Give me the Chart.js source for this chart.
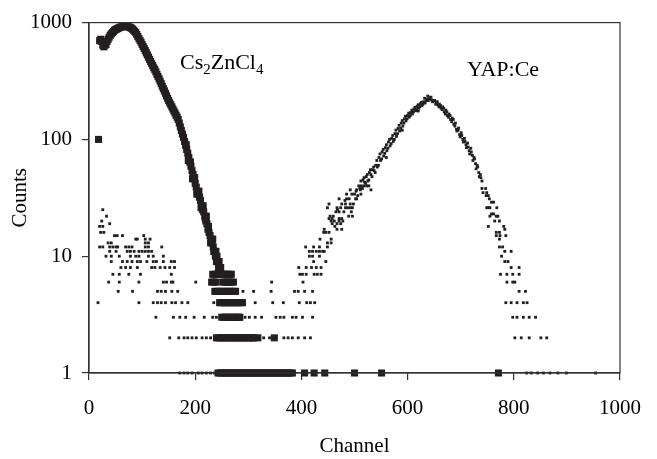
<!DOCTYPE html>
<html>
<head>
<meta charset="utf-8">
<script src="https://cdn.jsdelivr.net/npm/chart.js@4"></script>
<style>
    body { margin: 0; background: #fff; }
</style>
</head>
<body>
<canvas id="miGrafico" width="657" height="459"></canvas>
<script>
// ------------------------------------------------------------------------------
// ESPECTROS  Cs2ZnCl4 / YAP:Ce  (Counts vs Channel, escala log)
// ------------------------------------------------------------------------------
const xTicks = [0, 200, 400, 600, 800, 1000];
const yTicks = [1, 10, 100, 1000];

// Cs2ZnCl4 (cuadros grandes)
const csChannel = [
    18, 20, 22, 24, 26, 28, 30, 32, 34, 36, 38,
    40, 42, 44, 46, 48, 50, 52, 54, 56, 58,
    60, 62, 64, 66, 68, 70, 72, 74, 76, 78,
    80, 82, 84, 86, 88, 90, 92, 94, 96, 98,
    100, 102, 104, 106, 108, 110, 112, 114, 116, 118,
    120, 122, 124, 126, 128, 130, 132, 134, 136, 138,
    140, 142, 144, 146, 148, 150, 152, 154, 156, 158,
    160, 162, 164, 166, 168, 170, 172, 174, 176, 178,
    180, 182, 184, 186, 188, 190, 192, 194, 196, 198,
    200, 202, 204, 206, 208, 210, 212, 214, 216, 218,
    220, 222, 224, 226, 228, 230, 232, 234, 236, 238,
    240, 242, 244, 246, 248,
    183, 187, 191, 195, 199, 203, 207, 211, 215, 219,
    221, 225, 229, 233, 235, 239, 241, 243, 245, 247,
    233, 237, 241, 245, 249, 253, 257, 261, 265, 268,
    231, 235, 239, 252, 256, 260, 264, 268, 272,
    237, 241, 245, 249, 253, 257, 261, 265, 269, 273, 276,
    246, 250, 254, 258, 262, 266, 270, 274, 278, 282, 286, 289,
    250, 254, 258, 262, 266, 270, 274, 278, 282, 284,
    240, 244, 248, 252, 256, 260, 264, 268, 272, 276, 280,
    284, 288, 292, 296, 300, 304, 308, 310, 318, 349,
    243, 247, 251, 255, 259, 263, 267, 271, 275, 279, 283, 287,
    291, 295, 299, 303, 307, 311, 315, 319, 323, 327, 331, 335,
    339, 343, 347, 351, 355, 359, 363, 367, 371, 375, 379, 383,
    406, 424, 444, 500, 551, 771
];
const csCounts = [
    100, 700, 720, 690, 640, 620, 640, 650, 690, 720, 750,
    780, 800, 820, 840, 860, 870, 880, 890, 900, 910,
    915, 920, 925, 930, 930, 930, 925, 920, 915, 905,
    895, 880, 860, 840, 820, 790, 760, 730, 705, 680,
    650, 625, 600, 575, 550, 528, 505, 485, 465, 445,
    428, 410, 395, 378, 360, 345, 330, 315, 300, 285,
    272, 260, 248, 236, 225, 215, 206, 198, 190, 182,
    175, 168, 161, 155, 148, 138, 128, 119, 111, 104,
    96, 89, 82, 76, 70, 64, 59, 54, 50, 46,
    42, 39, 36, 34, 32, 30, 27, 25, 24, 22,
    20, 19, 17, 16, 15, 14, 13, 12, 11, 10,
    9, 9, 8, 8, 8,
    90, 66, 64, 46, 47, 34, 36, 26, 27, 21,
    22, 18, 13, 14, 11, 11, 10, 9, 9, 8,
    7, 7, 7, 7, 7, 7, 7, 7, 7, 7,
    6, 6, 6, 6, 6, 6, 6, 6, 6,
    5, 5, 5, 5, 5, 5, 5, 5, 5, 5, 5,
    4, 4, 4, 4, 4, 4, 4, 4, 4, 4, 4, 4,
    3, 3, 3, 3, 3, 3, 3, 3, 3, 3,
    2, 2, 2, 2, 2, 2, 2, 2, 2, 2, 2,
    2, 2, 2, 2, 2, 2, 2, 2, 2, 2,
    1, 1, 1, 1, 1, 1, 1, 1, 1, 1, 1, 1,
    1, 1, 1, 1, 1, 1, 1, 1, 1, 1, 1, 1,
    1, 1, 1, 1, 1, 1, 1, 1, 1, 1, 1, 1,
    1, 1, 1, 1, 1, 1
];

// YAP:Ce (puntos chicos)
const yapChannel = [
    26, 33, 24, 39, 20, 26, 22, 28,
    48, 53, 63, 103, 88, 91, 106, 115,
    36, 42, 106, 112,
    20, 26, 39, 45, 51, 54, 69, 75, 81, 106, 112, 137,
    39, 51, 72, 78, 85, 94, 100, 106, 112, 118,
    32, 42, 57, 78, 88, 94, 112, 121, 140,
    42, 63, 72, 81, 91, 97, 109, 121, 127, 140, 155, 161,
    60, 69, 78, 91, 118, 124, 134, 143, 152, 161,
    45, 57, 75, 97, 155,
    37, 57, 94, 140, 146, 155, 158, 201,
    55, 82, 129, 136, 144, 156, 167,
    17, 94, 121, 129, 136, 144, 156, 163, 175, 186, 235,
    126, 159, 171, 182, 198, 217, 233, 240, 256,
    152, 169, 179, 186, 194, 202, 213, 221, 229,
    171, 179, 186, 194, 206, 213, 221, 229, 236,
    344, 403, 290, 310, 343, 387, 394, 406, 421,
    313, 346, 366, 396, 410, 417, 425,
    286, 294, 302, 313, 325, 352, 360, 367, 383, 390, 402, 421,
    329, 340, 352, 367, 375, 383, 394, 406, 417,
    397, 402, 409, 424, 430, 437, 395, 409, 419, 428, 437,
    423, 446, 415, 421, 434, 415, 421, 428, 434, 440, 443,
    408, 423, 434, 449, 449, 456, 435, 456,
    442, 446, 452, 443, 467, 476, 458, 467, 474, 456, 462, 471,
    452, 458, 471, 476, 454, 489, 496, 465, 471, 480, 494,
    449, 467, 474, 483, 492, 496, 452, 476, 483, 492,
    471, 485, 502, 504, 485, 500, 512,
    492, 504, 511, 531, 508, 518, 523, 527,
    460, 463, 468, 478, 482, 487, 490, 495, 498, 503, 506, 510,
    512, 515, 518, 521, 524, 527, 530, 533, 536, 539,
    542, 545, 548, 551, 554, 557, 560, 563, 566, 569,
    572, 575, 578, 581, 584, 587, 590, 593, 596, 599,
    602, 605, 608, 611, 614, 617, 620, 623, 626, 629,
    632, 635, 638, 641, 644, 647, 650, 560, 590, 620,
    513, 516, 519, 522, 525, 528, 531, 534, 537, 540,
    543, 546, 549, 552, 555, 558, 561, 564, 567, 570,
    573, 576, 579, 582, 585, 588, 591, 594, 597, 600,
    603, 606, 609, 612, 615, 618, 621, 624, 627, 630,
    633, 636, 639, 642, 645, 648,
    651, 654, 657, 660, 663, 666, 669, 672, 675, 678,
    681, 684, 687, 690, 693, 696, 699, 702, 705, 708,
    711, 714, 717, 720, 723, 726, 729, 732, 735, 738,
    653, 656, 659, 662, 665, 668, 671, 674, 677, 680,
    683, 686, 689, 692, 695, 698, 701, 704, 707, 710,
    713, 716, 719, 722, 725, 728, 731, 734, 737, 740,
    740, 747, 742, 749, 748, 752, 754, 758, 762,
    749, 752, 755, 768, 758, 762, 755, 767, 770, 764, 773,
    752, 781, 783, 767, 773, 767, 774, 785, 773, 773, 779,
    783, 795, 777, 783, 789, 795, 810, 775, 787, 798, 810,
    787, 798, 802, 810, 822, 785, 795, 806, 818, 825,
    798, 806, 818, 829, 841, 802, 814, 829, 851, 862,
    824, 833, 845, 856, 868, 883, 899, 954
];
const yapCounts = [
    25, 22, 20, 19, 18, 18, 16, 16,
    15, 15, 15, 15, 14, 14, 14, 14,
    13, 13, 13, 13,
    12, 12, 12, 12, 12, 12, 12, 12, 12, 12, 12, 12,
    11, 11, 11, 11, 11, 11, 11, 11, 11, 11,
    10, 10, 10, 10, 10, 10, 10, 10, 10,
    9, 9, 9, 9, 9, 9, 9, 9, 9, 9, 9, 9,
    8, 8, 8, 8, 8, 8, 8, 8, 8, 8,
    7, 7, 7, 7, 7,
    6, 6, 6, 6, 6, 6, 6, 6,
    5, 5, 5, 5, 5, 5, 5,
    4, 4, 4, 4, 4, 4, 4, 4, 4, 4, 4,
    3, 3, 3, 3, 3, 3, 3, 3, 3,
    2, 2, 2, 2, 2, 2, 2, 2, 2,
    1, 1, 1, 1, 1, 1, 1, 1, 1,
    6, 6, 5, 5, 5, 5, 5, 5, 5,
    4, 4, 4, 4, 4, 4, 4,
    3, 3, 3, 3, 3, 3, 3, 3, 3, 3, 3, 3,
    2, 2, 2, 2, 2, 2, 2, 2, 2,
    7, 7, 7, 7, 7, 7, 8, 8, 8, 8, 8,
    9, 9, 10, 10, 10, 11, 11, 11, 11, 11, 11,
    12, 12, 12, 12, 13, 13, 14, 14,
    16, 16, 16, 17, 17, 17, 19, 19, 19, 20, 20, 20,
    21, 21, 21, 21, 22, 22, 22, 24, 24, 24, 24,
    26, 26, 26, 26, 26, 26, 28, 28, 28, 28,
    31, 31, 31, 31, 34, 34, 34,
    37, 37, 37, 37, 40, 40, 40, 40,
    22, 18, 25, 20, 30, 26, 31, 34, 28, 36, 33, 38,
    44, 38, 47, 42, 50, 45, 55, 48, 58, 52,
    66, 60, 75, 68, 82, 76, 90, 84, 100, 92,
    108, 100, 120, 112, 132, 125, 145, 138, 158, 150,
    168, 160, 178, 172, 188, 180, 198, 190, 208, 200,
    225, 215, 235, 222, 230, 210, 215, 70, 120, 175,
    40, 45, 43, 48, 44, 52, 50, 55, 54, 60,
    58, 70, 66, 78, 72, 85, 80, 95, 88, 102,
    96, 112, 106, 124, 118, 138, 130, 150, 144, 160,
    155, 170, 165, 182, 176, 192, 185, 202, 195, 210,
    205, 222, 215, 228, 218, 212,
    215, 205, 198, 200, 185, 190, 172, 178, 160, 165,
    148, 152, 135, 138, 118, 125, 105, 108, 95, 96,
    85, 86, 75, 78, 66, 68, 56, 58, 48, 47,
    200, 210, 190, 195, 180, 185, 165, 172, 155, 160,
    142, 148, 130, 122, 120, 110, 114, 100, 102, 90,
    93, 80, 84, 73, 70, 62, 60, 52, 50, 44,
    38, 38, 35, 35, 33, 33, 31, 29, 29,
    26, 26, 26, 26, 23, 23, 22, 22, 22, 20, 20,
    18, 18, 17, 16, 16, 15, 15, 15, 14, 12, 12,
    11, 11, 10, 9, 9, 8, 8, 7, 7, 7, 7,
    6, 6, 6, 5, 5, 4, 4, 4, 4, 4,
    3, 3, 3, 3, 3, 2, 2, 2, 2, 2,
    1, 1, 1, 1, 1, 1, 1, 1
];

const serif = "'Liberation Serif', 'Times New Roman', serif";
const ink = '#231f20';

let csData = csChannel.map((c, i) => ({ x: c, y: csCounts[i] }));
let yapData = yapChannel.map((c, i) => ({ x: c, y: yapCounts[i] }));

// marco completo del area de datos
const marco = {
    id: 'marco',
    afterDraw(chart) {
        const a = chart.chartArea;
        const c = chart.ctx;
        c.save();
        c.strokeStyle = '#333';
        c.lineWidth = 1.2;
        c.strokeRect(a.left, a.top, a.right - a.left, a.bottom - a.top);
        c.restore();
    }
};

// rotulos dentro del grafico
const rotulos = {
    id: 'rotulos',
    afterDatasetsDraw(chart) {
        const c = chart.ctx;
        c.save();
        c.fillStyle = '#000';
        c.textBaseline = 'alphabetic';
        c.textAlign = 'left';
        let x = 180;
        const base = 69;
        const partes = [['Cs', 0], ['2', 1], ['ZnCl', 0], ['4', 1]];
        for (let p of partes) {
            c.font = p[1] ? '15px ' + serif : '22px ' + serif;
            c.fillText(p[0], x, base + (p[1] ? 5 : 0));
            x += c.measureText(p[0]).width;
        }
        c.font = '22px ' + serif;
        c.fillText('YAP:Ce', 467, 76);
        c.restore();
    }
};

const mostrar = document.getElementById('miGrafico');
const grafico = new Chart(mostrar, {
    type: 'scatter',
    data: {
        datasets: [{
                label: 'Cs2ZnCl4',
                data: csData,
                pointStyle: 'rect',
                pointRadius: 5,
                borderWidth: 0,
                backgroundColor: ink,
                clip: false,
            },
            {
                label: 'YAP:Ce',
                data: yapData,
                pointStyle: 'rect',
                pointRadius: 2,
                borderWidth: 0,
                backgroundColor: ink,
                clip: false,
            }
        ],
    },
    options: {
        responsive: false,
        animation: false,
        events: [],
        layout: { padding: { top: 15, right: 24, left: 0, bottom: 0 } },
        plugins: {
            legend: { display: false },
            tooltip: { enabled: false },
        },
        scales: {
            x: {
                type: 'linear',
                min: 0,
                max: 1000,
                afterBuildTicks: (s) => { s.ticks = xTicks.map(v => ({ value: v })); },
                ticks: { color: '#000', font: { family: serif, size: 21 }, padding: 16, maxRotation: 0, callback: (v) => String(v) },
                grid: { drawOnChartArea: false, tickLength: 7, color: '#333', lineWidth: 1.2 },
                border: { color: '#333', width: 1.2 },
                title: { display: true, text: 'Channel', color: '#000', font: { family: serif, size: 21 }, padding: { top: 0, bottom: 0 } },
                afterFit: (s) => { s.height = 86; },
            },
            y: {
                type: 'logarithmic',
                min: 1,
                max: 1000,
                afterBuildTicks: (s) => { s.ticks = yTicks.map(v => ({ value: v })); },
                ticks: { color: '#000', font: { family: serif, size: 21 }, padding: 10, callback: (v) => String(v) },
                grid: { drawOnChartArea: false, tickLength: 7, color: '#333', lineWidth: 1.2 },
                border: { color: '#333', width: 1.2 },
                title: { display: true, text: 'Counts', color: '#000', font: { family: serif, size: 21 }, padding: { top: 8, bottom: 0 } },
                afterFit: (s) => { s.width = 89; },
            }
        }
    },
    plugins: [marco, rotulos]
});
</script>
</body>
</html>
